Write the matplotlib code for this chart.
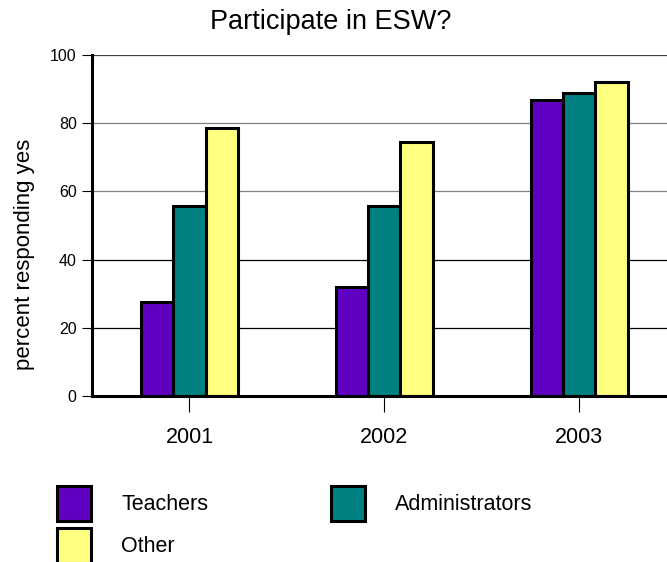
import matplotlib
matplotlib.use("Agg")
from matplotlib import pyplot as plt
import numpy as np

plt.rcParams['font.family'] = ['Liberation Sans', 'DejaVu Sans']

years = ['2001', '2002', '2003']
groups = ['Teachers', 'Administrators', 'Other']
teachers = [27.5, 31.9, 86.8]
administrators = [55.8, 55.7, 89.0]
other = [78.5, 74.6, 92.2]
colors = ['#6000C0', '#008080', '#FFFF80']

fig = plt.figure(figsize=(6.67, 5.62), dpi=100)
ax = fig.add_axes([92/667, 1-396/562, 584.8/667, 341/562])

x = np.arange(len(years))
w = 0.165
bars = []
for i, (vals, col, name) in enumerate(zip([teachers, administrators, other], colors, groups)):
    b = ax.bar(x + (i-1)*w, vals, w, color=col, edgecolor='black', linewidth=2.2,
               label=name, zorder=3)
    bars.append(b)

ax.set_xlim(-0.5, 2.5)
ax.set_ylim(0, 100)
ax.set_yticks(range(0, 101, 20))
ax.set_xticks(x)
ax.set_xticklabels(years, fontsize=15.5)
ax.tick_params(axis='x', length=11.5, width=0.8, pad=11)
ax.tick_params(axis='y', length=7, width=0.8, labelsize=11.5, pad=4)

ax.yaxis.grid(True, zorder=0)
ax.set_axisbelow(True)
gl = ax.yaxis.get_gridlines()
grid_cols = ['black', 'black', 'black', '#808080', '#808080', '#404040']
for line, c in zip(gl, grid_cols):
    line.set_color(c)
    line.set_linewidth(0.9)

for s in ['top', 'right']:
    ax.spines[s].set_visible(False)
ax.spines['left'].set_linewidth(2.2)
ax.spines['bottom'].set_linewidth(2.2)
ax.spines['left'].set_zorder(4)
ax.spines['bottom'].set_zorder(4)

fig.text(330.5/667, 1-29.3/562, 'Participate in ESW?', fontsize=19.5,
         ha='center', va='baseline')
fig.text(25/667, 1-254/562, 'percent responding yes', fontsize=16,
         rotation=90, ha='center', va='center')

# legend: row1 Teachers, Administrators; row2 Other
handles = [bars[0], bars[2], bars[1]]
labels = [groups[0], groups[2], groups[1]]
fig.legend(handles, labels, loc='upper left', bbox_to_anchor=(57.3/667, 1-486/562),
           ncol=2, frameon=False, fontsize=15.5, borderpad=0, borderaxespad=0,
           handlelength=1.58, handleheight=2.13, labelspacing=0.3,
           handletextpad=1.4, columnspacing=5.7)

fig.savefig('out.png', dpi=100)
